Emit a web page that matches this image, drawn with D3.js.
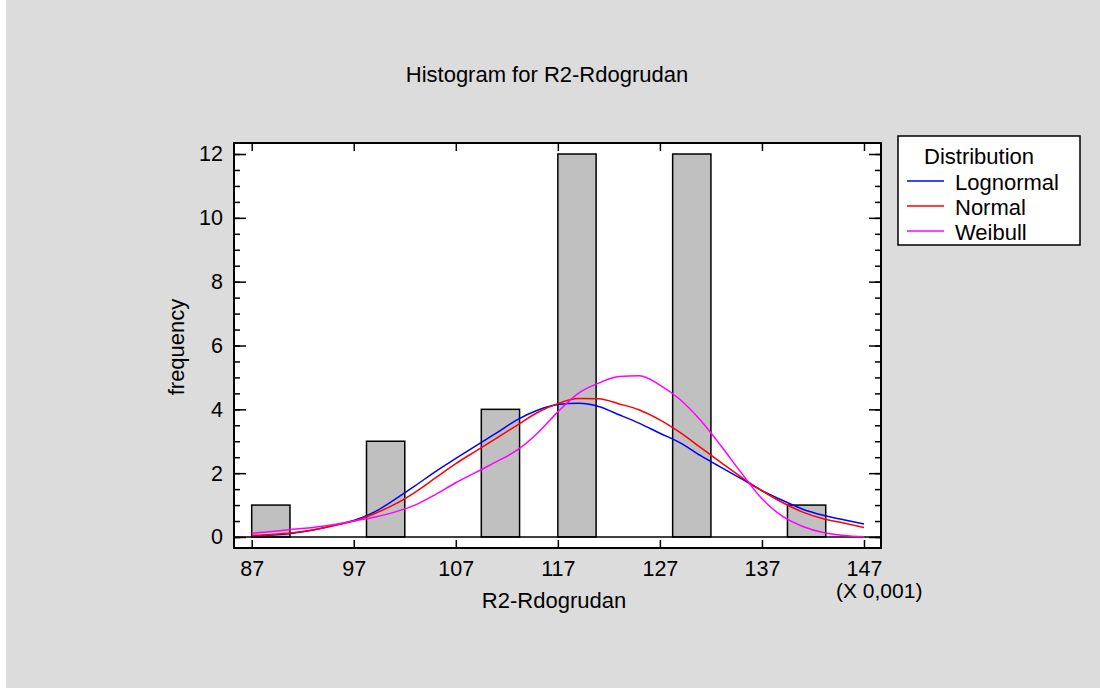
<!DOCTYPE html>
<html><head><meta charset="utf-8">
<script src="https://cdn.jsdelivr.net/npm/d3@7"></script>
<style>body{margin:0;background:#fff}svg{display:block}text{font-family:"Liberation Sans",Arial,sans-serif;fill:#000}</style>
</head><body><svg id="c" width="1100" height="688"></svg>
<script>
// ---- data ----
const binEdgesLow = [87, 98.25, 109.5, 117, 128.25, 139.5];
const binWidth = 3.75;
const frequencies = [1, 3, 4, 12, 12, 1];
const xTicks = [87, 97, 107, 117, 127, 137, 147];
const yTicks = [0, 2, 4, 6, 8, 10, 12];
const curveX = [87,89,91,93,95,97,99,101,103,105,107,109,111,113,115,117,119,121,123,125,127,129,131,133,135,137,139,141,143,145,147];
const lognormal = [0.03,0.06,0.12,0.22,0.36,0.52,0.78,1.17,1.6,2.05,2.46,2.86,3.26,3.67,3.97,4.15,4.19,4.09,3.83,3.56,3.25,2.95,2.55,2.18,1.82,1.45,1.15,0.87,0.68,0.54,0.41];
const normal = [0.05,0.08,0.13,0.22,0.35,0.5,0.73,1.02,1.4,1.85,2.3,2.7,3.1,3.5,3.9,4.18,4.34,4.33,4.17,3.98,3.67,3.27,2.8,2.33,1.87,1.45,1.08,0.78,0.57,0.44,0.3];
const weibull = [0.12,0.17,0.24,0.3,0.38,0.5,0.62,0.78,1.0,1.33,1.7,2.03,2.36,2.72,3.25,3.92,4.5,4.82,5.03,5.05,4.76,4.3,3.65,2.85,2.0,1.2,0.65,0.33,0.14,0.05,0.01];
const seriesNames = ["Lognormal", "Normal", "Weibull"];
const seriesColors = ["#0000ff", "#ff0000", "#ff00ff"];
const title = "Histogram for R2-Rdogrudan";
const xLabel = "R2-Rdogrudan";
const yLabel = "frequency";
const xUnitNote = "(X 0,001)";
const legendTitle = "Distribution";

// ---- layout ----
const svg = d3.select("#c");
const L = 234, T = 143, R = 881, B = 548;
svg.append("rect").attr("x", 6).attr("y", 0).attr("width", 1094).attr("height", 688).attr("fill", "#dcdcdc");

const x = d3.scaleLinear().domain([85.266, 148.666]).range([L, R]);
const y = d3.scaleLinear().domain([-0.345, 12.345]).range([B, T]);

svg.append("rect").attr("x", L).attr("y", T).attr("width", R - L).attr("height", B - T).attr("fill", "#fff");

// bars
svg.append("g").selectAll("rect").data(frequencies).join("rect")
  .attr("x", (d, i) => x(binEdgesLow[i]))
  .attr("width", (d, i) => x(binEdgesLow[i] + binWidth) - x(binEdgesLow[i]))
  .attr("y", d => y(d))
  .attr("height", d => y(0) - y(d))
  .attr("fill", "#c0c0c0").attr("stroke", "#000").attr("stroke-width", 1.5);

// baseline at 0
svg.append("line").attr("x1", L).attr("x2", R).attr("y1", y(0)).attr("y2", y(0)).attr("stroke", "#000").attr("stroke-width", 1.5);

// curves
const line = d3.line().x((d, i) => x(curveX[i])).y(d => y(d)).curve(d3.curveMonotoneX);
[lognormal, normal, weibull].forEach((s, k) => {
  svg.append("path").attr("d", line(s)).attr("fill", "none").attr("stroke", seriesColors[k]).attr("stroke-width", 1.5);
});

// axes
const fs = "21.5px";
const yMinor = d3.range(0, 12.01, 0.5);
svg.append("g").attr("transform", `translate(${L},0)`)
  .call(d3.axisLeft(y).tickValues(yTicks).tickSizeInner(-12).tickSizeOuter(0).tickPadding(11));
svg.append("g").attr("transform", `translate(${L},0)`)
  .call(d3.axisLeft(y).tickValues(yMinor).tickSizeInner(-6).tickSizeOuter(0).tickFormat(""));
svg.append("g").attr("transform", `translate(${R},0)`)
  .call(d3.axisRight(y).tickValues(yTicks).tickSizeInner(-12).tickSizeOuter(0).tickFormat(""));
svg.append("g").attr("transform", `translate(${R},0)`)
  .call(d3.axisRight(y).tickValues(yMinor).tickSizeInner(-6).tickSizeOuter(0).tickFormat(""));
svg.append("g").attr("transform", `translate(0,${B})`)
  .call(d3.axisBottom(x).tickValues(xTicks).tickSizeInner(-8).tickSizeOuter(0).tickPadding(13));
svg.append("g").attr("transform", `translate(0,${T})`)
  .call(d3.axisTop(x).tickValues(xTicks).tickSizeInner(-8).tickSizeOuter(0).tickFormat(""));
svg.selectAll(".domain").remove();
svg.selectAll(".tick line").attr("stroke", "#000").attr("stroke-width", 1.5);
svg.selectAll(".tick text").style("font-size", fs).style("font-family", '"Liberation Sans",Arial,sans-serif').attr("fill", "#000");

// frame
svg.append("rect").attr("x", L).attr("y", T).attr("width", R - L).attr("height", B - T)
  .attr("fill", "none").attr("stroke", "#000").attr("stroke-width", 2);

// texts
svg.append("text").attr("x", 547).attr("y", 82).attr("text-anchor", "middle").style("font-size", "22px").text(title);
svg.append("text").attr("x", 554).attr("y", 608).attr("text-anchor", "middle").style("font-size", "22px").text(xLabel);
svg.append("text").attr("x", 836).attr("y", 598).style("font-size", "21px").text(xUnitNote);
svg.append("text").attr("transform", "translate(184,347) rotate(-90)").attr("text-anchor", "middle").style("font-size", "22px").text(yLabel);

// legend
const lg = svg.append("g");
lg.append("rect").attr("x", 898).attr("y", 136).attr("width", 182).attr("height", 109)
  .attr("fill", "#fff").attr("stroke", "#000").attr("stroke-width", 1.5);
lg.append("text").attr("x", 924).attr("y", 164).style("font-size", "22px").text(legendTitle);
seriesNames.forEach((n, i) => {
  const yy = 181 + i * 25;
  lg.append("line").attr("x1", 907).attr("x2", 944).attr("y1", yy).attr("y2", yy).attr("stroke", seriesColors[i]).attr("stroke-width", 1.5);
  lg.append("text").attr("x", 955).attr("y", yy + 9).style("font-size", "22px").text(n);
});
</script></body></html>
